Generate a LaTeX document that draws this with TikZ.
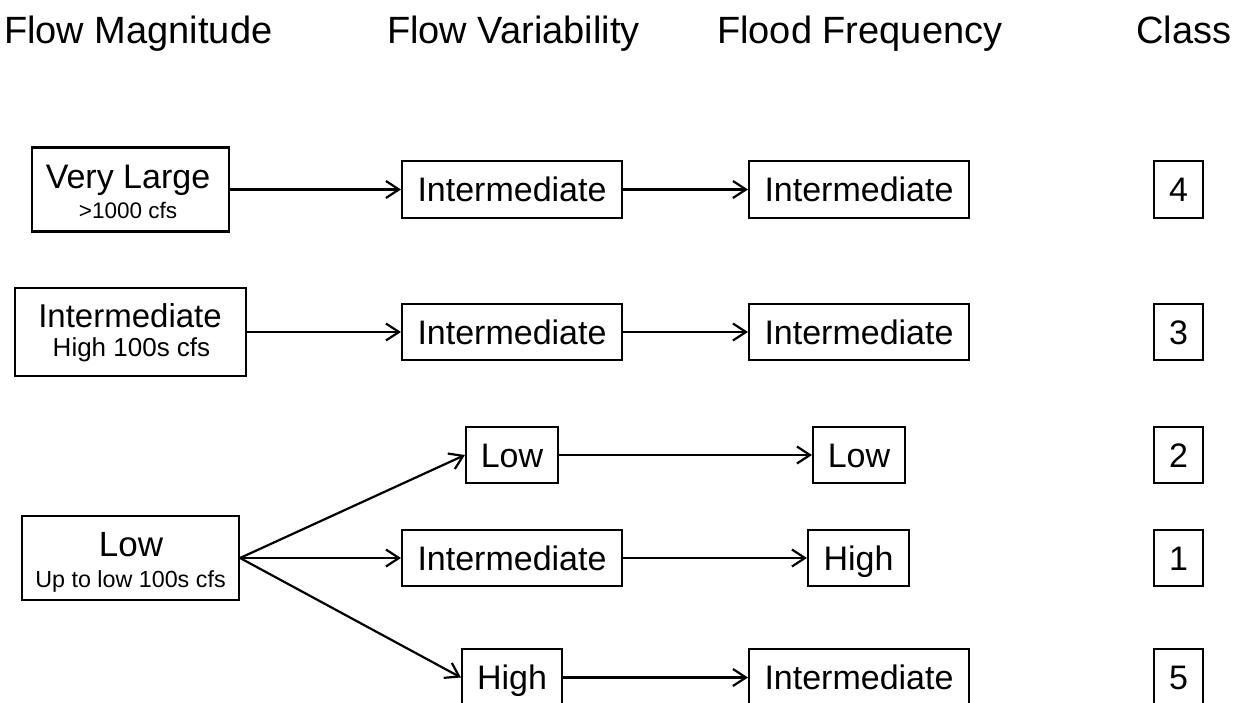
\documentclass[tikz,border=0pt]{standalone}
\usepackage{fontspec}
\setmainfont{Liberation Sans}
\usetikzlibrary{arrows.meta}
\begin{document}
\begin{tikzpicture}[x=1pt,y=-1pt,
  box/.style={draw=black, line width=2.1pt, inner sep=0pt, minimum height=56.5pt,
    text height=24.4pt, text depth=0pt, font=\fontsize{34}{40}\selectfont},
  bigbox/.style={draw=black, line width=2.1pt, inner sep=0pt},
  mainlbl/.style={anchor=base, inner sep=0pt, font=\fontsize{34}{40}\selectfont},
  sublbl/.style={anchor=base, inner sep=0pt},
  head/.style={anchor=base west, inner sep=0pt, font=\fontsize{38}{44}\selectfont},
  flow/.style={line width=2.2pt, -{Straight Barb[length=13pt,width=17pt]}},
]
\useasboundingbox (0,0) rectangle (1236,703);

% column headings
\node[head] (hmag)  at (4,44)    {Flow Magnitude};
\node[head] (hvar)  at (387,44)  {Flow Variability};
\node[head] (hfreq) at (717,44)  {Flood Frequency};
\node[head] (hcls)  at (1136,44) {Class};

% flow magnitude boxes
\node[bigbox, minimum width=197pt, minimum height=84pt] (vl) at (130.5,189.5) {};
\node[mainlbl] (vlt) at (128,188.3) {Very Large};
\node[sublbl, font=\fontsize{22.5}{26}\selectfont] (vls) at (128,219) {>1000 cfs};

\node[bigbox, minimum width=231pt, minimum height=88pt] (im) at (130.5,332) {};
\node[mainlbl, font=\fontsize{33}{38}\selectfont] (imt) at (130,327.7) {Intermediate};
\node[sublbl, font=\fontsize{26}{30}\selectfont] (ims) at (131.5,356) {High 100s cfs};

\node[bigbox, minimum width=217pt, minimum height=84pt] (lm) at (130.5,558) {};
\node[mainlbl, font=\fontsize{35}{40}\selectfont] (lmt) at (131,556.7) {Low};
\node[sublbl, font=\fontsize{23.3}{27}\selectfont] (lms) at (130.5,587) {Up to low 100s cfs};

% flow variability boxes
\node[box, minimum width=220pt] (fv1) at (512,189.5) {Intermediate};
\node[box, minimum width=220pt] (fv2) at (512,332)   {Intermediate};
\node[box, minimum width=92pt]  (fv3) at (512,455)   {Low};
\node[box, minimum width=220pt] (fv4) at (512,558)   {Intermediate};
\node[box, minimum width=100pt] (fv5) at (512,677.5) {High};

% flood frequency boxes
\node[box, minimum width=220pt] (ff1) at (859,189.5) {Intermediate};
\node[box, minimum width=220pt] (ff2) at (859,332)   {Intermediate};
\node[box, minimum width=92pt]  (ff3) at (859,455)   {Low};
\node[box, minimum width=101pt] (ff4) at (858.5,558) {High};
\node[box, minimum width=220pt] (ff5) at (859,677.5) {Intermediate};

% class boxes
\node[box, minimum width=49pt] (c1) at (1178.5,189.5) {4};
\node[box, minimum width=49pt] (c2) at (1178.5,332)   {3};
\node[box, minimum width=49pt] (c3) at (1178.5,455)   {2};
\node[box, minimum width=49pt] (c4) at (1178.5,558)   {1};
\node[box, minimum width=49pt] (c5) at (1178.5,677.5) {5};

% connectors
\draw[flow] (vl.east) -- (fv1.west);
\draw[flow] (fv1.east) -- (ff1.west);
\draw[flow] (im.east) -- (fv2.west);
\draw[flow] (fv2.east) -- (ff2.west);
\draw[flow] (lm.east) -- (fv3.west);
\draw[flow] (lm.east) -- (fv4.west);
\draw[flow] (lm.east) -- (fv5.west);
\draw[flow] (fv3.east) -- (ff3.west);
\draw[flow] (fv4.east) -- (ff4.west);
\draw[flow] (fv5.east) -- (ff5.west);
\end{tikzpicture}
\end{document}
